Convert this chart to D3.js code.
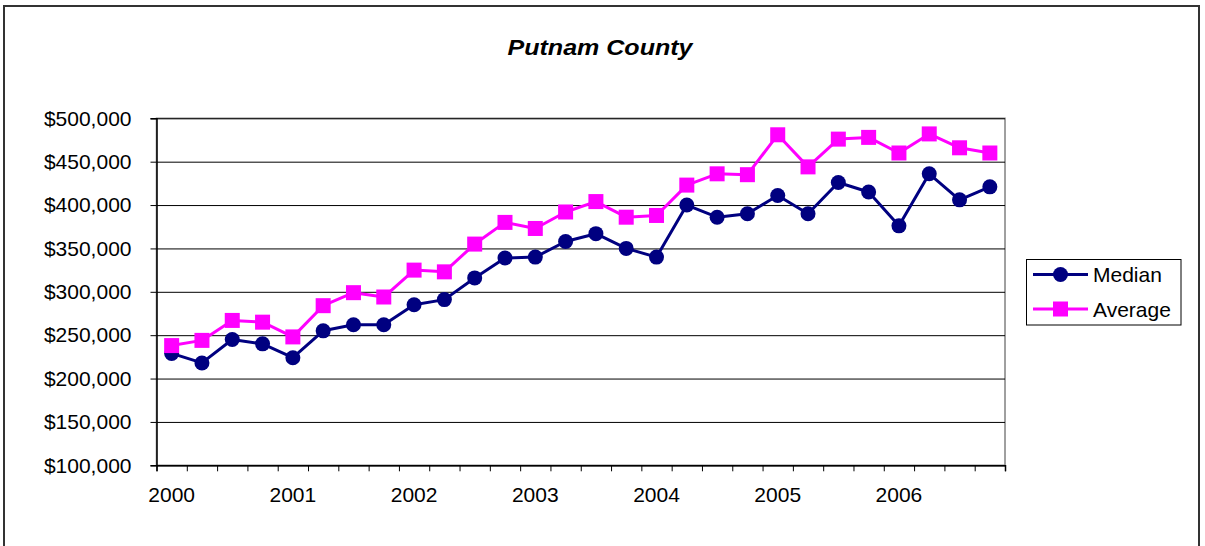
<!DOCTYPE html>
<html>
<head>
<meta charset="utf-8">
<script src="https://cdn.jsdelivr.net/npm/d3@7"></script>
<style>
  html, body { margin: 0; padding: 0; background: #fff; }
  svg { display: block; font-family: "Liberation Sans", Arial, sans-serif; }
</style>
</head>
<body>
<svg id="chart" width="1205" height="546"></svg>
<script>
// Quarterly home sale prices, 2000 Q1 through 2006 Q4
const quarters = [
  "2000", "", "", "", "2001", "", "", "", "2002", "", "", "", "2003", "", "", "",
  "2004", "", "", "", "2005", "", "", "", "2006", "", "", ""
];
const median = [
  229000, 218000, 245000, 240000, 224000, 255000, 262000, 262000,
  285000, 291000, 316000, 339000, 340000, 358000, 367000, 350000,
  340000, 400000, 386000, 390000, 411000, 390000, 426000, 415000,
  376000, 436000, 406000, 421000
];
const average = [
  238000, 244000, 267000, 265000, 248000, 284000, 299000, 294000,
  325000, 323000, 355000, 380000, 373000, 392000, 404000, 386000,
  388000, 423000, 436000, 435000, 481000, 444000, 476000, 478000,
  460000, 482000, 466000, 460000
];
const yTicks = [100000, 150000, 200000, 250000, 300000, 350000, 400000, 450000, 500000];
const seriesNames = ["Median", "Average"];
const seriesColors = ["#000080", "#FF00FF"];

const svg = d3.select("#chart");
const plot = { left: 156.5, right: 1005, top: 118.3, bottom: 465.3 };
const n = quarters.length;
const labelFont = "'Liberation Sans', Arial, sans-serif";

// Outer chart frame
svg.append("rect")
  .attr("x", 4).attr("y", 6).attr("width", 1195).attr("height", 560)
  .attr("fill", "#fff").attr("stroke", "#333").attr("stroke-width", 2);

// Title
svg.append("text")
  .attr("x", 600).attr("y", 55)
  .attr("text-anchor", "middle")
  .attr("font-size", 21.5).attr("font-weight", "bold").attr("font-style", "italic")
  .attr("textLength", 185).attr("lengthAdjust", "spacingAndGlyphs")
  .text("Putnam County");

// Scales
const x = d3.scaleBand().domain(d3.range(n)).range([plot.left, plot.right]).paddingInner(0).paddingOuter(0);
const xEdge = d3.scaleLinear().domain([0, n]).range([plot.left, plot.right]);
const y = d3.scaleLinear().domain([100000, 500000]).range([plot.bottom, plot.top]);
const cx = i => x(i) + x.bandwidth() / 2;

// Plot area border (right side shows in grey)
svg.append("rect")
  .attr("x", plot.left).attr("y", plot.top)
  .attr("width", plot.right - plot.left).attr("height", plot.bottom - plot.top)
  .attr("fill", "#fff").attr("stroke", "#808080").attr("stroke-width", 1.5);

// Horizontal gridlines
svg.append("g")
  .attr("transform", `translate(${plot.left},0)`)
  .call(d3.axisLeft(y).tickValues(yTicks).tickSize(-(plot.right - plot.left)).tickFormat(""))
  .call(g => g.select(".domain").remove())
  .call(g => g.selectAll("line").attr("stroke", "#000").attr("stroke-width", 1));

// Y axis
const fmt = d3.format(",");
svg.append("g")
  .attr("transform", `translate(${plot.left},0)`)
  .call(d3.axisLeft(y).tickValues(yTicks).tickSize(6).tickPadding(19).tickFormat(d => "$" + fmt(d)))
  .call(g => g.select(".domain").attr("stroke", "#000").attr("stroke-width", 1.5))
  .call(g => g.selectAll("line").attr("stroke", "#000"))
  .call(g => g.selectAll("text").attr("font-size", 21).attr("fill", "#000")
    .attr("font-family", labelFont));

// X axis tick marks at category boundaries
svg.append("g")
  .attr("transform", `translate(0,${plot.bottom})`)
  .call(d3.axisBottom(xEdge).tickValues(d3.range(n + 1)).tickSize(6).tickFormat(""))
  .call(g => g.select(".domain").attr("stroke", "#000").attr("stroke-width", 1.5))
  .call(g => g.selectAll("line").attr("stroke", "#000"));

// X axis year labels
svg.append("g")
  .attr("transform", `translate(0,${plot.bottom})`)
  .call(d3.axisBottom(x).tickValues(d3.range(n).filter(i => quarters[i] !== ""))
    .tickSize(0).tickPadding(22).tickFormat(i => quarters[i]))
  .call(g => g.select(".domain").remove())
  .call(g => g.selectAll("text").attr("font-size", 21).attr("fill", "#000")
    .attr("font-family", labelFont));

// Series
const data = [median, average];
const line = d3.line().x((d, i) => cx(i)).y(d => y(d));
data.forEach((vals, s) => {
  svg.append("path")
    .datum(vals)
    .attr("fill", "none")
    .attr("stroke", seriesColors[s])
    .attr("stroke-width", 3)
    .attr("stroke-linejoin", "round")
    .attr("d", line);
  const g = svg.append("g");
  if (s === 0) {
    g.selectAll("circle").data(vals).join("circle")
      .attr("cx", (d, i) => cx(i)).attr("cy", d => y(d)).attr("r", 7.5)
      .attr("fill", seriesColors[s]);
  } else {
    g.selectAll("rect").data(vals).join("rect")
      .attr("x", (d, i) => cx(i) - 7.5).attr("y", d => y(d) - 7.5)
      .attr("width", 15).attr("height", 15)
      .attr("fill", seriesColors[s]);
  }
});

// Legend
const legend = svg.append("g");
legend.append("rect")
  .attr("x", 1026.5).attr("y", 259.5).attr("width", 154.5).attr("height", 65.5)
  .attr("fill", "#fff").attr("stroke", "#000").attr("stroke-width", 1);
const rowsY = [274.5, 309];
seriesNames.forEach((name, s) => {
  const ly = rowsY[s];
  legend.append("line")
    .attr("x1", 1033).attr("x2", 1088).attr("y1", ly).attr("y2", ly)
    .attr("stroke", seriesColors[s]).attr("stroke-width", 3);
  if (s === 0) {
    legend.append("circle").attr("cx", 1060.5).attr("cy", ly).attr("r", 7.5).attr("fill", seriesColors[s]);
  } else {
    legend.append("rect").attr("x", 1053).attr("y", ly - 7.5).attr("width", 15).attr("height", 15).attr("fill", seriesColors[s]);
  }
  legend.append("text")
    .attr("x", 1093).attr("y", ly + 7.5)
    .attr("font-size", 21).attr("fill", "#000")
    .text(name);
});
</script>
</body>
</html>
